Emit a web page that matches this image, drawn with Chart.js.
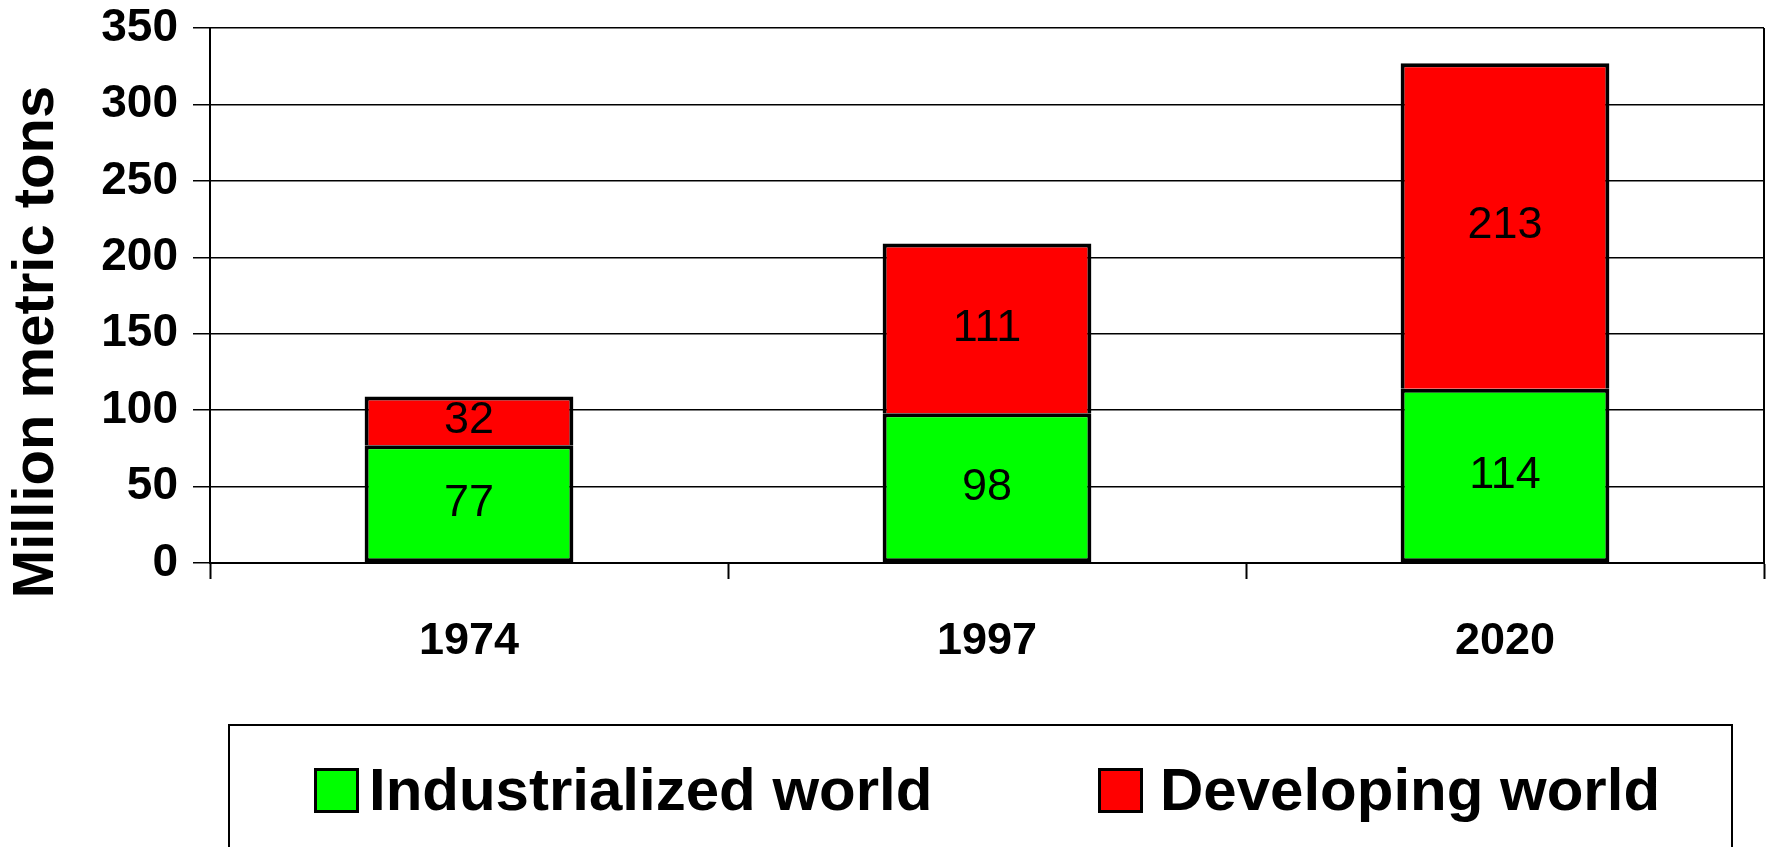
<!DOCTYPE html>
<html lang="en">
<head>
  <meta charset="UTF-8">
  <title>Million metric tons</title>
  <script src="https://cdn.jsdelivr.net/npm/chart.js"></script>
  <style>
    body { margin: 0; background: #fff; }
    .wrap { position: relative; width: 1771px; height: 847px; overflow: hidden; }
    .legend-box {
      position: absolute;
      left: 228px; top: 724px;
      width: 1505px; height: 200px;
      border: 2px solid #000;
      box-sizing: border-box;
      background: #fff;
    }
    .legend-box .swatch {
      position: absolute;
      width: 45px; height: 45px;
      border: 3px solid #000;
      box-sizing: border-box;
    }
    .legend-box .label {
      position: absolute;
      font: bold 60px "Liberation Sans", Arial, sans-serif;
      line-height: 60px;
      white-space: nowrap;
      color: #000;
    }
  </style>
</head>
<body>
  <div class="wrap">
    <canvas id="chart"></canvas>
    <div class="legend-box" id="legend"></div>
  </div>

  <script>
    // values
    const years = ["1974", "1997", "2020"];
    const industrialized = [77, 98, 114];
    const developing = [32, 111, 213];
    const yMax = 350;
    const yStep = 50;

    const FONT = '"Liberation Sans", Arial, sans-serif';

    // value labels in the middle of each segment
    const segmentLabels = {
      id: "segmentLabels",
      afterDatasetsDraw(chart) {
        const ctx = chart.ctx;
        ctx.save();
        ctx.font = "45px " + FONT;
        ctx.fillStyle = "#000";
        ctx.textAlign = "center";
        ctx.textBaseline = "middle";
        chart.data.datasets.forEach((ds, i) => {
          chart.getDatasetMeta(i).data.forEach((bar, j) => {
            const p = bar.getProps(["x", "y", "base"], true);
            ctx.fillText(ds.data[j], p.x, (p.y + p.base) / 2);
          });
        });
        ctx.restore();
      }
    };

    // y title and the right-hand frame line
    const extras = {
      id: "extras",
      afterDraw(chart) {
        const ctx = chart.ctx;
        const a = chart.chartArea;
        ctx.save();
        ctx.strokeStyle = "#000";
        ctx.lineWidth = 2;
        ctx.beginPath();
        ctx.moveTo(a.right, a.top);
        ctx.lineTo(a.right, a.bottom);
        ctx.stroke();

        ctx.translate(37, 342);
        ctx.rotate(-Math.PI / 2);
        ctx.font = "bold 58px " + FONT;
        ctx.fillStyle = "#000";
        ctx.textAlign = "center";
        ctx.textBaseline = "middle";
        ctx.fillText("Million metric tons", 0, 0);
        ctx.restore();
      }
    };

    const chart = new Chart(document.getElementById("chart"), {
      type: "bar",
      data: {
        labels: years,
        datasets: [
          {
            label: "Industrialized world",
            data: industrialized,
            backgroundColor: "#00FF00",
            borderColor: "#000",
            borderWidth: 4,
            borderSkipped: false
          },
          {
            label: "Developing world",
            data: developing,
            backgroundColor: "#FF0000",
            borderColor: "#000",
            borderWidth: 4,
            borderSkipped: "bottom"
          }
        ]
      },
      options: {
        responsive: true,
        maintainAspectRatio: false,
        animation: false,
        categoryPercentage: 1,
        barPercentage: 0.403,
        layout: { padding: { top: 28, right: 7, bottom: 0, left: 0 } },
        plugins: {
          legend: { display: false },
          tooltip: { enabled: false }
        },
        scales: {
          x: {
            stacked: true,
            grid: {
              offset: true,
              drawOnChartArea: false,
              drawTicks: true,
              tickLength: 16,
              tickColor: "#000",
              tickWidth: 2
            },
            border: { display: true, color: "#000", width: 2 },
            ticks: {
              color: "#000",
              padding: 36,
              font: { family: FONT, size: 45, weight: "bold" }
            },
            afterFit(axis) {
              axis.height = 284;
              axis.paddingLeft = 0;
              axis.paddingRight = 0;
            }
          },
          y: {
            stacked: true,
            min: 0,
            max: yMax,
            grid: {
              color: "#000",
              lineWidth: 1.5,
              tickLength: 17,
              tickColor: "#000"
            },
            border: { display: true, color: "#000", width: 2 },
            ticks: {
              stepSize: yStep,
              color: "#000",
              padding: 15,
              font: { family: FONT, size: 46, weight: "bold" }
            },
            afterFit(axis) {
              axis.width = 210;
              axis.paddingTop = 0;
              axis.paddingBottom = 0;
            }
          }
        }
      },
      plugins: [segmentLabels, extras]
    });

    // legend drawn as html, from the dataset names and colours
    const legend = document.getElementById("legend");
    const swatchLeft = [84, 868];
    const textLeft = [139, 930];
    chart.data.datasets.forEach((ds, i) => {
      const sw = document.createElement("span");
      sw.className = "swatch";
      sw.style.left = swatchLeft[i] + "px";
      sw.style.top = "42px";
      sw.style.background = ds.backgroundColor;
      legend.appendChild(sw);
      const tx = document.createElement("span");
      tx.className = "label";
      tx.style.left = textLeft[i] + "px";
      tx.style.top = "34px";
      tx.textContent = ds.label;
      legend.appendChild(tx);
    });
  </script>
</body>
</html>
